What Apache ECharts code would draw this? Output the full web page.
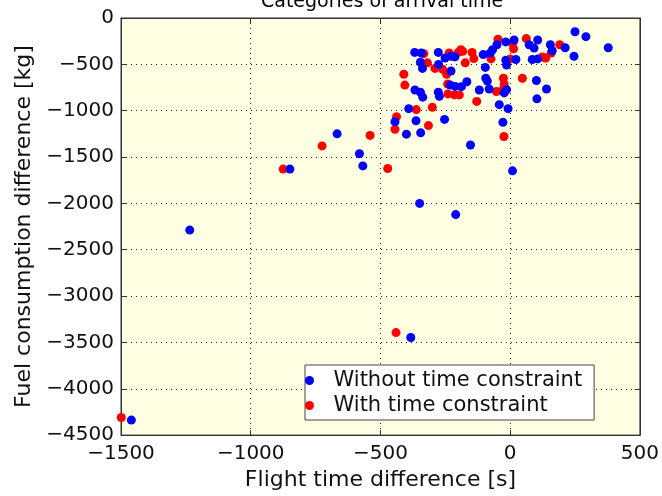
<!DOCTYPE html>
<html>
<head>
<meta charset="utf-8">
<script src="https://cdn.jsdelivr.net/npm/echarts@6/dist/echarts.min.js"></script>
<style>
html,body{margin:0;padding:0;background:#fff;}
#chart{width:662px;height:496px;}
</style>
</head>
<body>
<div id="chart"></div>
<script>
var titleText = 'Categories of arrival time';
var xName = 'Flight time difference [s]';
var yName = 'Fuel consumption difference [kg]';
var seriesNames = ['Without time constraint', 'With time constraint'];

var withoutX = [250,292,378,246,212,155,162,106,73,92,85,106,15,-17,22,-17,-14,-51,-68,-77,-104,-96,-94,-88,-81,-119,-14,-23,101,140,103,-42,-8,-28,-153,9,-277,-251,-228,-213,-276,-228,-368,-342,-346,-338,-367,-346,-337,-277,-273,-231,-212,-188,-167,-391,-363,-444,-400,-345,-253,-581,-568,-667,-849,-1235,-349,-210,-383,-1460];
var withoutY = [-148,-201,-321,-413,-321,-289,-353,-237,-289,-325,-448,-441,-237,-258,-448,-455,-508,-289,-342,-378,-395,-533,-650,-681,-766,-777,-773,-808,-674,-766,-872,-935,-978,-1126,-1370,-1649,-371,-431,-413,-420,-501,-572,-371,-378,-477,-544,-777,-801,-854,-801,-844,-724,-738,-741,-688,-978,-1108,-1119,-1253,-1239,-1094,-1465,-1596,-1250,-1630,-2288,-2000,-2121,-3447,-4338];

var withX = [-47,62,9,13,0,-74,191,158,137,124,47,-26,-23,-26,-53,-129,-24,-147,-140,-183,-200,-235,-173,-333,-319,-290,-260,-245,-410,-406,-241,-240,-215,-196,-300,-362,-438,-444,-315,-540,-472,-875,-725,-440,-1499,-12,-190];
var withY = [-229,-222,-272,-332,-441,-441,-289,-378,-431,-420,-650,-650,-713,-766,-794,-900,-1278,-371,-438,-360,-371,-378,-484,-385,-484,-544,-554,-607,-607,-724,-713,-819,-830,-830,-964,-988,-1066,-1200,-1161,-1267,-1624,-1630,-1380,-3394,-4310,-470,-342];

var xTicks = {min: -1500, max: 500, interval: 500};
var yTicks = {min: -4500, max: 0, interval: 500};

function pairs(xs, ys) { return xs.map(function (x, i) { return [x, ys[i]]; }); }
function fmt(v) { return String(v).replace('-', '\u2212'); }

var FONT = 'DejaVu Sans';
var chart = echarts.init(document.getElementById('chart'), null, {renderer: 'canvas'});
var gridLine = {show: true, lineStyle: {color: '#222', width: 1, type: [1, 4]}};
var border = {show: true, onZero: false, lineStyle: {color: '#333', width: 1}};
var tick = {show: true, inside: true, length: 5, lineStyle: {color: '#333'}};

chart.setOption({
  animation: false,
  backgroundColor: '#fff',
  title: {
    text: titleText, left: 256, top: -12,
    textStyle: {fontFamily: FONT, fontSize: 19, fontWeight: 'normal', color: '#000'}
  },
  grid: {left: 121, right: 21, top: 18, bottom: 54, show: true, backgroundColor: '#ffffe3', borderColor: '#333', borderWidth: 1},
  legend: {
    data: seriesNames, orient: 'vertical', left: 305, top: 365,
    padding: [5, 12, 4, 0], itemGap: 4, itemWidth: 38, itemHeight: 9,
    icon: 'circle', backgroundColor: '#fff', borderColor: '#444', borderWidth: 1, borderRadius: 0,
    textStyle: {fontFamily: FONT, fontSize: 21, color: '#111'}
  },
  xAxis: [{
    type: 'value', min: xTicks.min, max: xTicks.max, interval: xTicks.interval,
    name: xName, nameLocation: 'middle', nameGap: 28,
    nameTextStyle: {fontFamily: FONT, fontSize: 22, color: '#111'},
    axisLine: border, axisTick: tick, splitLine: gridLine,
    axisLabel: {fontFamily: FONT, fontSize: 20, color: '#111', margin: 9, formatter: fmt}
  }, {
    type: 'value', position: 'top', min: xTicks.min, max: xTicks.max, interval: xTicks.interval,
    axisLine: border, axisTick: tick, splitLine: {show: false}, axisLabel: {show: false}
  }],
  yAxis: [{
    type: 'value', min: yTicks.min, max: yTicks.max, interval: yTicks.interval,
    name: yName, nameLocation: 'middle', nameGap: 78, nameRotate: 90,
    nameTextStyle: {fontFamily: FONT, fontSize: 22, color: '#111'},
    axisLine: border, axisTick: tick, splitLine: gridLine,
    axisLabel: {fontFamily: FONT, fontSize: 20, color: '#111', margin: 7, formatter: fmt}
  }, {
    type: 'value', position: 'right', min: yTicks.min, max: yTicks.max, interval: yTicks.interval,
    axisLine: border, axisTick: tick, splitLine: {show: false}, axisLabel: {show: false}
  }],
  series: [{
    name: seriesNames[1], type: 'scatter', symbol: 'circle', symbolSize: 9,
    itemStyle: {color: '#ff0000', opacity: 1}, data: pairs(withX, withY)
  }, {
    name: seriesNames[0], type: 'scatter', symbol: 'circle', symbolSize: 9,
    itemStyle: {color: '#0000ff', opacity: 1}, data: pairs(withoutX, withoutY)
  }]
});
</script>
</body>
</html>
